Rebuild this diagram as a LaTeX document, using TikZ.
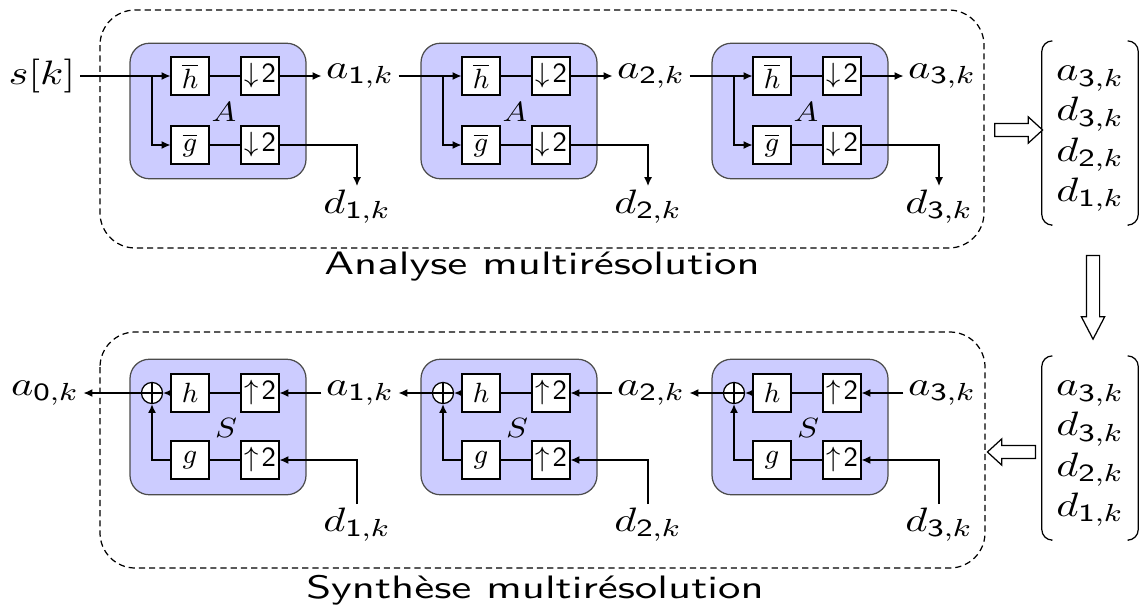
\documentclass[tikz,border=0pt]{standalone}
\usepackage{amsmath}
\usetikzlibrary{positioning,arrows.meta,shapes.arrows}
\tikzset{
  bloc/.style={draw=black!70,fill=blue!20,rounded corners=2.2mm,minimum width=20mm,minimum height=15.4mm},
  filtre/.style={draw,fill=white,minimum size=4.3mm,inner sep=0pt,font=\fontsize{9.5}{11}\selectfont},
  somme/.style={circle,draw,fill=white,minimum size=2.4mm,inner sep=0pt},
  etiq/.style={font=\fontsize{11}{13}\selectfont,xscale=1.25,inner sep=1pt},
  nom/.style={font=\fontsize{9.5}{11}\selectfont,xscale=1.15,inner sep=0pt},
  vect/.style={etiq,minimum height=20.8mm,inner xsep=3.5pt},
  parenth/.style={rounded corners=1.2mm},
  titre/.style={font=\sffamily\fontsize{10.5}{12}\selectfont,xscale=1.38},
  fl/.style={-{Latex[length=1mm,width=0.9mm]}},
  cadre/.style={dash pattern=on 2pt off 1.3pt,rounded corners=4mm},
  creux/.style={single arrow,draw,fill=white,inner xsep=0pt,inner ysep=0.68mm,minimum height=5.45mm,single arrow head extend=0.75mm,single arrow tip angle=85},
}
\newcommand{\colonne}{$\begin{array}{@{}c@{}} a_{\mathsf{3},k}\\ d_{\mathsf{3},k}\\ d_{\mathsf{2},k}\\ d_{\mathsf{1},k}\end{array}$}

\begin{document}
\begin{tikzpicture}[x=0.11364mm,y=-0.11364mm]
  \useasboundingbox (0,0) rectangle (1141,607);
  % cadres
  \draw[cadre] (100,10) rectangle (984,248);
  \draw[cadre] (100,332) rectangle (985,568);
  \node[titre] (tAna) at (542,267) {Analyse multirésolution};
  \node[titre] (tSyn) at (535,590) {Synthèse multirésolution};
  \node[etiq] (aA0) at (42,76) {$s[k]$};
  \node[etiq] (aS0) at (45,393) {$a_{\mathsf{0},k}$};
  % analyse
  \foreach \i/\dx [remember=\i as \prev (initially 0)] in {1/0,2/291,3/582} {
    \node[bloc] (A\i) at (218+\dx,111) {};
    \node[filtre] (hb\i) at (190+\dx,76) {$\overline{h}$};
    \node[filtre] (dh\i) at (260+\dx,76) {$\downarrow\!\mathsf{2}$};
    \node[filtre] (gb\i) at (190+\dx,145) {$\overline{g}$};
    \node[filtre] (dg\i) at (260+\dx,145) {$\downarrow\!\mathsf{2}$};
    \node[nom] (lA\i) at (224+\dx,112) {$A$};
    \node[etiq] (aA\i) at (360+\dx,76) {$a_{\mathsf{\i},k}$};
    \node[etiq,anchor=north] (dA\i) at (357+\dx,186) {$d_{\mathsf{\i},k}$};
    \coordinate (br\i) at (152+\dx,76);
    \draw[fl] (aA\prev.east) -- (hb\i.west);
    \draw[fl] (br\i) |- (gb\i.west);
    \draw (hb\i) -- (dh\i);
    \draw (gb\i) -- (dg\i);
    \draw[fl] (dh\i) -- (aA\i);
    \draw[fl] (dg\i.east) -| (dA\i.north);
  }
  % synthese
  \foreach \i/\dx [remember=\i as \prev (initially 0)] in {1/0,2/291,3/582} {
    \node[bloc] (S\i) at (218+\dx,427) {};
    \node[somme] (som\i) at (152+\dx,393) {};
    \draw (som\i.north) -- (som\i.south) (som\i.west) -- (som\i.east);
    \node[filtre] (h\i) at (190+\dx,393) {$h$};
    \node[filtre] (uh\i) at (260+\dx,393) {$\uparrow\!\mathsf{2}$};
    \node[filtre] (g\i) at (190+\dx,460) {$g$};
    \node[filtre] (ug\i) at (260+\dx,460) {$\uparrow\!\mathsf{2}$};
    \node[nom] (lS\i) at (226+\dx,428) {$S$};
    \node[etiq] (aS\i) at (360+\dx,393) {$a_{\mathsf{\i},k}$};
    \node[etiq,anchor=north] (dS\i) at (357+\dx,504) {$d_{\mathsf{\i},k}$};
    \draw[fl] (aS\i) -- (uh\i);
    \draw[fl] (dS\i.north) |- (ug\i.east);
    \draw (uh\i) -- (h\i);
    \draw (ug\i) -- (g\i);
    \draw[fl] (h\i) -- (som\i);
    \draw[fl] (g\i.west) -| (som\i.south);
    \draw[fl] (som\i) -- (aS\prev);
  }
  % vecteurs
  \foreach \v/\y in {1/133,2/448} {
    \node[vect] (vec\v) at (1090,\y) {\colonne};
    \draw[parenth] ([xshift=1.1mm]vec\v.north west) -- (vec\v.north west) -- (vec\v.south west) -- ([xshift=1.1mm]vec\v.south west);
    \draw[parenth] ([xshift=-1.1mm]vec\v.north east) -- (vec\v.north east) -- (vec\v.south east) -- ([xshift=-1.1mm]vec\v.south east);
  }
  \node[creux] (fd) at (1015,130) {};
  \node[creux,rotate=-90,minimum height=9.5mm,single arrow head extend=0.57mm,single arrow tip angle=55] (fb) at (1093,291) {};
  \node[creux,rotate=180] (fg) at (1015,452) {};
\end{tikzpicture}
\end{document}
